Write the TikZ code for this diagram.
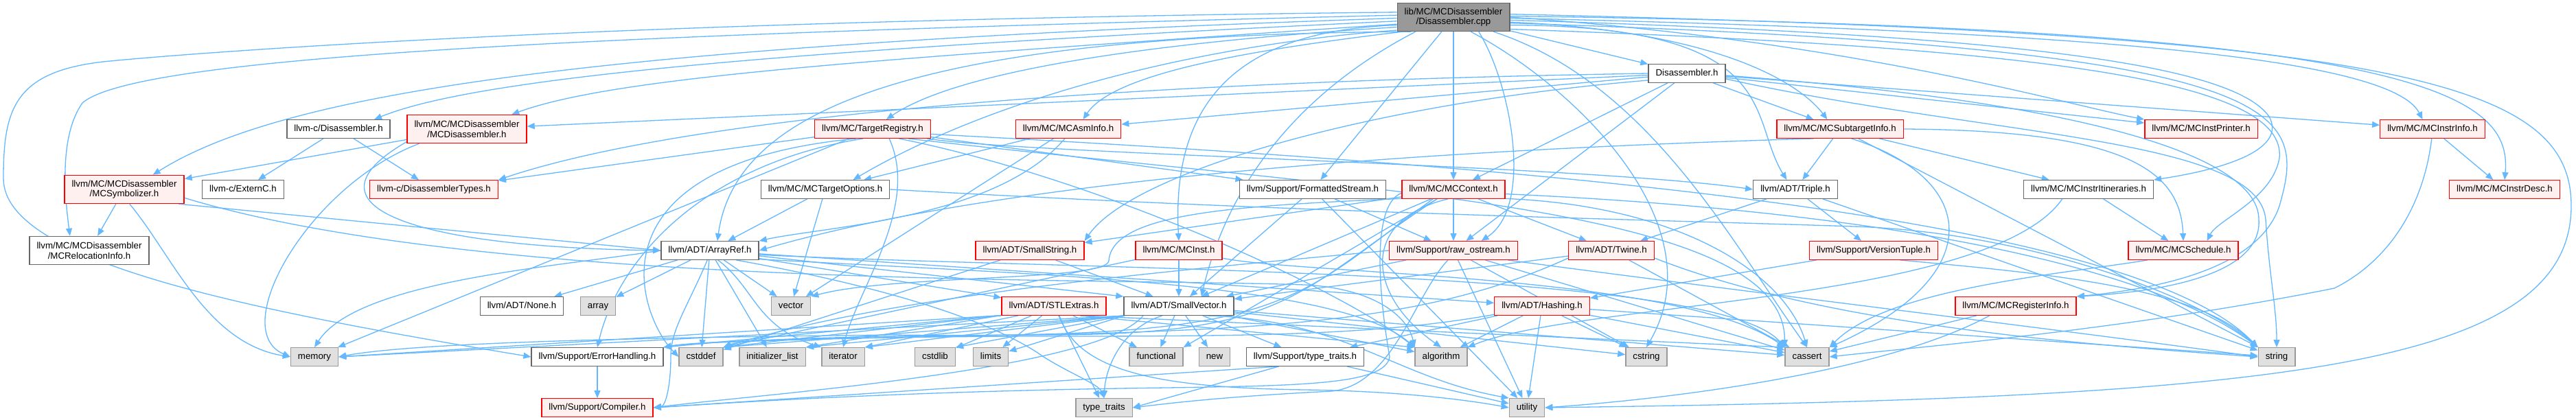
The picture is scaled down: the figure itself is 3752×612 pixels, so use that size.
\documentclass[tikz,border=0pt]{standalone}
\usepackage{fontspec}
\setmainfont{Liberation Sans}
\usetikzlibrary{arrows.meta}
\pgfdeclarelayer{bg}
\pgfdeclarelayer{edges}
\pgfsetlayers{bg,edges,main}
\definecolor{edgeblue}{HTML}{63B8FF}
\definecolor{nodered}{HTML}{FF0000}
\definecolor{redfill}{HTML}{FFF0F0}
\definecolor{sysfill}{HTML}{E0E0E0}
\definecolor{sysline}{HTML}{999999}
\definecolor{plainline}{HTML}{666666}
\definecolor{rootfill}{HTML}{999999}
\begin{document}
\begin{tikzpicture}[x=1pt,y=-1pt,
  base/.style={rectangle, line width=1.4pt, inner xsep=10.5pt, inner ysep=0pt,
    minimum height=26.5pt, align=center, font=\fontsize{13.3}{14.5}\selectfont,
    text height=9.6pt, text depth=2.9pt},
  two/.style={minimum height=41pt, text height=, text depth=},
  plain/.style={base, draw=plainline, fill=white},
  redn/.style={base, draw=nodered, fill=redfill},
  sysn/.style={base, draw=sysline, fill=sysfill},
  rootn/.style={base, draw=plainline, fill=rootfill},
  e/.style={draw=edgeblue, line width=1.3pt, -{Triangle[length=11pt,width=9pt]}}]
\begin{pgfonlayer}{bg}
\fill[white] (0,0) rectangle (3752,612);
\end{pgfonlayer}
\useasboundingbox (0,0) rectangle (3752,612);

\node[rootn,two] (cpp) at (2117,25) {lib/MC/MCDisassembler\\/Disassembler.cpp};
\node[plain] (dish) at (2457,107) {Disassembler.h};
\node[plain] (cdis) at (493,188) {llvm-c/Disassembler.h};
\node[redn,two] (mcdis) at (680,188) {llvm/MC/MCDisassembler\\/MCDisassembler.h};
\node[redn] (treg) at (1271,188) {llvm/MC/TargetRegistry.h};
\node[redn] (asminfo) at (1556,188) {llvm/MC/MCAsmInfo.h};
\node[redn] (subt) at (2680,188) {llvm/MC/MCSubtargetInfo.h};
\node[redn] (iprinter) at (3206,188) {llvm/MC/MCInstPrinter.h};
\node[redn] (instrinfo) at (3543,188) {llvm/MC/MCInstrInfo.h};
\node[redn,two] (msym) at (181,276) {llvm/MC/MCDisassembler\\/MCSymbolizer.h};
\node[plain] (externc) at (354,276) {llvm-c/ExternC.h};
\node[redn] (dtypes) at (632,276) {llvm-c/DisassemblerTypes.h};
\node[plain] (topts) at (1202,276) {llvm/MC/MCTargetOptions.h};
\node[plain] (fstream) at (1912,276) {llvm/Support/FormattedStream.h};
\node[redn] (ctx) at (2117,276) {llvm/MC/MCContext.h};
\node[plain] (triple) at (2615,276) {llvm/ADT/Triple.h};
\node[plain] (itin) at (3042,276) {llvm/MC/MCInstrItineraries.h};
\node[redn] (idesc) at (3648,276) {llvm/MC/MCInstrDesc.h};
\node[plain,two] (reloc) at (130,365) {llvm/MC/MCDisassembler\\/MCRelocationInfo.h};
\node[plain] (aref) at (1034,365) {llvm/ADT/ArrayRef.h};
\node[redn] (sstr) at (1500,365) {llvm/ADT/SmallString.h};
\node[redn] (inst) at (1717,365) {llvm/MC/MCInst.h};
\node[redn] (ros) at (2117,365) {llvm/Support/raw\_ostream.h};
\node[redn] (twine) at (2347,365) {llvm/ADT/Twine.h};
\node[redn] (vtuple) at (2729,365) {llvm/Support/VersionTuple.h};
\node[redn] (sched) at (3180,365) {llvm/MC/MCSchedule.h};
\node[plain] (none) at (760,446) {llvm/ADT/None.h};
\node[sysn] (array) at (871,446) {array};
\node[sysn] (vector) at (1152,446) {vector};
\node[redn] (stl) at (1535,446) {llvm/ADT/STLExtras.h};
\node[plain] (svec) at (1717,446) {llvm/ADT/SmallVector.h};
\node[redn] (hash) at (2246,446) {llvm/ADT/Hashing.h};
\node[redn] (reginfo) at (2936,446) {llvm/MC/MCRegisterInfo.h};
\node[sysn] (memory) at (458,520) {memory};
\node[plain] (errh) at (870,520) {llvm/Support/ErrorHandling.h};
\node[sysn] (cstddef) at (1021,520) {cstddef};
\node[sysn] (initlist) at (1125,520) {initializer\_list};
\node[sysn] (iterator) at (1228,520) {iterator};
\node[sysn] (cstdlib) at (1362,520) {cstdlib};
\node[sysn] (limits) at (1443,520) {limits};
\node[sysn] (functional) at (1684,520) {functional};
\node[sysn] (nnew) at (1769,520) {new};
\node[plain] (ttraitsh) at (1901,520) {llvm/Support/type\_traits.h};
\node[sysn] (algorithm) at (2099,520) {algorithm};
\node[sysn] (cstring) at (2398,520) {cstring};
\node[sysn] (cassert) at (2632,520) {cassert};
\node[sysn] (string) at (3316,520) {string};
\node[redn] (compiler) at (870,594) {llvm/Support/Compiler.h};
\node[sysn] (ttraits) at (1608,594) {type\_traits};
\node[sysn] (utility) at (2224,594) {utility};

\begin{pgfonlayer}{edges}
% Disassembler.cpp
\draw[e] (cpp) -- (dish);
\draw[e] (cpp.184) .. controls (1200,70) and (700,110) .. (cdis.15);
\draw[e] (cpp.187) .. controls (1300,85) and (900,110) .. (mcdis.18);
\draw[e] (cpp.181) .. controls (900,65) and (420,130) .. (msym.27);
\draw[e] (cpp.178) .. controls (900,50) and (200,80) .. (120,150) .. controls (85,200) and (95,290) .. (reloc.143);
\draw[e] (cpp.175) .. controls (900,30) and (300,75) .. (150,90) .. controls (20,105) and (5,160) .. (5,260) .. controls (5,380) and (350,450) .. (errh.west);
\draw[e] (cpp.190) .. controls (1700,60) and (1400,100) .. (treg.35);
\draw[e] (cpp.193) .. controls (1750,65) and (1450,140) .. (topts.19);
\draw[e] (cpp.196) .. controls (1800,75) and (1620,110) .. (asminfo.33);
\draw[e] (cpp.199) .. controls (1300,50) and (1070,170) .. (aref.52);
\draw[e] (cpp.188) .. controls (1800,45) and (1706,150) .. (inst.north);
\draw[e] (cpp.-159) .. controls (1900,130) and (1790,260) .. (svec.23);
\draw[e] (cpp) -- (fstream);
\draw[e] (cpp) -- (ctx);
\draw[e] (cpp.-30) .. controls (2200,120) and (2235,300) .. (ros.19);
\draw[e] (cpp.-40) .. controls (2300,130) and (2500,330) .. (cstring.north);
\draw[e] (cpp.-20) .. controls (2400,120) and (2520,350) .. (cassert.north);
\draw[e] (cpp.-5) .. controls (2500,45) and (2620,120) .. (subt.143);
\draw[e] (cpp.-8) .. controls (2600,38) and (2545,170) .. (triple.132);
\draw[e] (cpp.-3) .. controls (2900,50) and (3250,90) .. (3305,170) .. controls (3330,215) and (3250,245) .. (itin.north east);
\draw[e] (cpp.-1) .. controls (3000,45) and (3480,80) .. (instrinfo.136);
\draw[e] (cpp.1) .. controls (3500,40) and (3660,130) .. (idesc.north);
\draw[e] (cpp.0) .. controls (2700,60) and (3000,150) .. (iprinter.north west);
\draw[e] (cpp.-6) .. controls (3350,70) and (3360,160) .. (3320,300) .. controls (3290,390) and (3150,420) .. (reginfo.north east);
\draw[e] (cpp.-12) .. controls (3000,70) and (3330,120) .. (3320,230) .. controls (3310,290) and (3230,320) .. (sched.22);
\draw[e] (cpp.3) .. controls (3500,50) and (3745,120) .. (3745,300) .. controls (3745,540) and (3300,580) .. (utility.east);
% Disassembler.h
\draw[e] (dish) -- (subt);
\draw[e] (dish) -- (ctx);
\draw[e] (dish) -- (ros);
\draw[e] (dish) -- (mcdis);
\draw[e] (dish) -- (asminfo);
\draw[e] (dish.west) .. controls (1600,120) and (1000,170) .. (dtypes.north east);
\draw[e] (dish.190) .. controls (2000,150) and (1650,250) .. (sstr.north east);
\draw[e] (dish) -- (iprinter);
\draw[e] (dish) -- (instrinfo);
\draw[e] (dish.-3) .. controls (3050,150) and (3290,230) .. (3290,320) .. controls (3295,400) and (3150,425) .. (reginfo.north east);
\draw[e] (dish.-8) .. controls (2900,200) and (3290,200) .. (3300,320) .. controls (3305,400) and (3316,450) .. (string.north);
% llvm-c/Disassembler.h, MCDisassembler.h, MCSymbolizer.h
\draw[e] (cdis) -- (dtypes);
\draw[e] (cdis) -- (externc);
\draw[e] (mcdis) -- (msym);
\draw[e] (mcdis.-163) .. controls (450,270) and (330,480) .. (memory.west);
\draw[e] (mcdis.-168) .. controls (430,300) and (600,360) .. (aref.west);
\draw[e] (msym) -- (reloc);
\draw[e] (msym.-70) .. controls (250,370) and (300,500) .. (memory.west);
\draw[e] (msym.-15) -- (aref.west);
\draw[e] (msym.-8) .. controls (700,420) and (1600,405) .. (1900,415) .. controls (2000,420) and (2050,460) .. (algorithm.north west);
% TargetRegistry.h
\draw[e] (treg) -- (dtypes);
\draw[e] (treg.-10) .. controls (1500,225) and (2300,240) .. (triple.west);
\draw[e] (treg.-135) .. controls (1020,240) and (900,380) .. (errh.north);
\draw[e] (treg) -- (fstream);
\draw[e] (treg.-20) .. controls (1600,260) and (1950,420) .. (algorithm.north west);
\draw[e] (treg.-15) .. controls (2000,280) and (2600,300) .. (cassert.north west);
\draw[e] (treg.-150) .. controls (850,240) and (930,460) .. (cstddef.west);
\draw[e] (treg.-30) .. controls (1340,300) and (1250,420) .. (iterator.north);
\draw[e] (treg) -- (memory);
\draw[e] (treg.-5) .. controls (2200,240) and (3100,310) .. (string.north west);
% MCAsmInfo.h, MCTargetOptions.h
\draw[e] (asminfo.-110) .. controls (1450,320) and (1200,330) .. (aref.north east);
\draw[e] (asminfo) -- (topts);
\draw[e] (asminfo) -- (vector);
\draw[e] (topts) -- (aref);
\draw[e] (topts) -- (vector);
\draw[e] (topts.east) .. controls (1900,310) and (2400,320) .. (2700,330) .. controls (2950,338) and (3200,430) .. (string.north west);
% FormattedStream.h
\draw[e] (fstream) -- (svec);
\draw[e] (fstream) -- (ros);
\draw[e] (fstream) -- (utility);
% MCContext.h
\draw[e] (ctx) -- (sstr);
\draw[e] (ctx) -- (svec);
\draw[e] (ctx) -- (twine);
\draw[e] (ctx) -- (ros);
\draw[e] (ctx.-150) .. controls (1880,430) and (1880,490) .. (1500,488) .. controls (1200,490) and (1080,495) .. (cstddef.north east);
\draw[e] (ctx.-155) .. controls (1880,440) and (1880,495) .. (1300,488) .. controls (900,492) and (600,500) .. (memory.east);
\draw[e] (ctx.-176) .. controls (1995,300) and (2010,440) .. (2024,520) .. controls (2018,560) and (1900,562) .. (1700,565) .. controls (1300,570) and (1050,588) .. (compiler.east);
\draw[e] (ctx.-120) .. controls (1980,320) and (1990,430) .. (algorithm.north);
\draw[e] (ctx.-10) .. controls (2450,300) and (2600,400) .. (cassert.north);
\draw[e] (ctx) -- (functional.north east);
\draw[e] (ctx.-5) .. controls (2800,310) and (3150,400) .. (string.north west);
\draw[e] (ctx.-170) .. controls (1800,300) and (1620,310) .. (1615,380) .. controls (1612,410) and (1300,400) .. (vector.north east);
% Triple.h, MCInstrItineraries.h
\draw[e] (triple) -- (twine);
\draw[e] (triple) -- (vtuple);
\draw[e] (triple) -- (string);
\draw[e] (itin) -- (sched);
\draw[e] (itin.-160) .. controls (2900,440) and (2300,440) .. (algorithm.north east);
% MCSubtargetInfo.h
\draw[e] (subt.-160) .. controls (2200,215) and (1500,250) .. (aref.east);
\draw[e] (subt) -- (triple);
\draw[e] (subt) -- (itin);
\draw[e] (subt.east) .. controls (3100,190) and (3176,250) .. (sched.north);
\draw[e] (subt.-40) .. controls (2880,260) and (2900,400) .. (cassert.north east);
\draw[e] (subt) -- (string);
% MCInstrInfo.h
\draw[e] (instrinfo) -- (idesc);
\draw[e] (instrinfo.-95) .. controls (3530,300) and (3480,380) .. (3400,420) .. controls (3100,480) and (2800,505) .. (cassert.east);
% ArrayRef.h
\draw[e] (aref) -- (hash);
\draw[e] (aref) -- (none);
\draw[e] (aref) -- (stl);
\draw[e] (aref) -- (svec.north west);
\draw[e] (aref.-105) .. controls (1000,450) and (977,480) .. (977,520) .. controls (977,560) and (970,592) .. (compiler.east);
\draw[e] (aref.-10) .. controls (1500,400) and (1950,410) .. (algorithm.north west);
\draw[e] (aref) -- (array);
\draw[e] (aref.-5) .. controls (1600,395) and (2500,390) .. (cassert.north west);
\draw[e] (aref) -- (cstddef);
\draw[e] (aref) -- (initlist);
\draw[e] (aref.-50) .. controls (1100,420) and (1100,475) .. (iterator.north west);
\draw[e] (aref.west) .. controls (800,390) and (520,410) .. (memory.north);
\draw[e] (aref.-20) .. controls (1300,420) and (1450,470) .. (1520,520) .. controls (1560,545) and (1600,560) .. (ttraits.north);
\draw[e] (aref) -- (vector);
% SmallString.h, MCInst.h
\draw[e] (sstr) -- (svec);
\draw[e] (sstr) -- (cstddef);
\draw[e] (inst) -- (svec);
\draw[e] (inst.-10) .. controls (1900,400) and (2450,400) .. (cassert.north west);
\draw[e] (inst) -- (cstddef.north east);
% raw_ostream.h
\draw[e] (ros) -- (svec);
\draw[e] (ros) -- (cassert);
\draw[e] (ros.west) .. controls (1700,395) and (1300,430) .. (cstddef.north east);
\draw[e] (ros) -- (cstring);
\draw[e] (ros.-10) .. controls (2500,420) and (3000,480) .. (string.west);
\draw[e] (ros.-120) .. controls (2060,430) and (2030,560) .. (1940,570) .. controls (1780,578) and (1700,588) .. (ttraits.east);
\draw[e] (ros) -- (utility);
% Twine.h, VersionTuple.h, MCSchedule.h, MCRegisterInfo.h
\draw[e] (twine) -- (svec);
\draw[e] (twine.-170) .. controls (2100,460) and (1900,480) .. (1500,488) .. controls (1100,495) and (1000,500) .. (errh.north east);
\draw[e] (twine) -- (cassert);
\draw[e] (twine.-10) .. controls (2650,470) and (3000,500) .. (string.west);
\draw[e] (vtuple) -- (hash);
\draw[e] (vtuple.-20) .. controls (3000,400) and (3200,420) .. (string.north west);
\draw[e] (sched.-165) .. controls (3000,400) and (2750,420) .. (cassert.north east);
\draw[e] (reginfo) -- (cassert);
\draw[e] (reginfo.-160) .. controls (2750,540) and (2450,580) .. (utility.east);
% STLExtras.h
\draw[e] (stl.-170) -- (errh.north east);
\draw[e] (stl.-20) -- (algorithm.north west);
\draw[e] (stl.-20) -- (cassert.north west);
\draw[e] (stl.-170) -- (cstddef.north east);
\draw[e] (stl) -- (cstdlib);
\draw[e] (stl) -- (functional);
\draw[e] (stl.-170) -- (initlist.north east);
\draw[e] (stl.-165) -- (iterator.north east);
\draw[e] (stl) -- (limits);
\draw[e] (stl.-170) -- (memory.east);
\draw[e] (stl) -- (ttraits);
\draw[e] (stl.-60) .. controls (1570,545) and (1700,565) .. (1900,568) .. controls (2050,570) and (2150,585) .. (utility.west);
% SmallVector.h
\draw[e] (svec.-165) .. controls (1600,540) and (1100,575) .. (compiler.east);
\draw[e] (svec) -- (ttraitsh);
\draw[e] (svec) -- (algorithm);
\draw[e] (svec) -- (cassert);
\draw[e] (svec.-170) -- (cstddef.north east);
\draw[e] (svec.-170) -- (cstdlib.north east);
\draw[e] (svec) -- (cstring);
\draw[e] (svec) -- (functional);
\draw[e] (svec.-170) -- (initlist.north east);
\draw[e] (svec.-170) -- (iterator.north east);
\draw[e] (svec.-170) -- (limits);
\draw[e] (svec.-170) -- (memory.east);
\draw[e] (svec) -- (nnew);
\draw[e] (svec.-150) .. controls (1630,480) and (1610,540) .. (ttraits.north);
\draw[e] (svec.-20) .. controls (1960,465) and (2030,550) .. (utility.north west);
% Hashing.h
\draw[e] (hash.-170) .. controls (2000,490) and (1800,490) .. (1500,490) .. controls (1100,492) and (1000,500) .. (errh.north east);
\draw[e] (hash) -- (ttraitsh);
\draw[e] (hash) -- (algorithm);
\draw[e] (hash) -- (cassert);
\draw[e] (hash) -- (cstring);
\draw[e] (hash) -- (string);
\draw[e] (hash) -- (utility);
% ErrorHandling.h, type_traits.h
\draw[e] (errh) -- (compiler);
\draw[e] (ttraitsh.-160) -- (compiler.east);
\draw[e] (ttraitsh.-160) -- (ttraits.east);
\draw[e] (ttraitsh) -- (utility);
\end{pgfonlayer}
\end{tikzpicture}
\end{document}
